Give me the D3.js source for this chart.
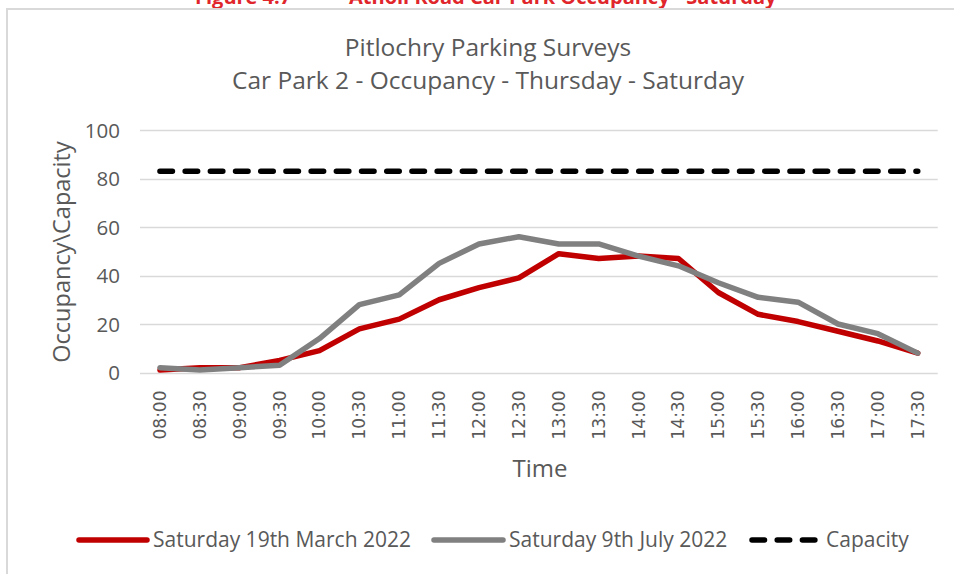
<!DOCTYPE html>
<html>
<head>
<meta charset="utf-8">
<script src="https://cdn.jsdelivr.net/npm/d3@7"></script>
<style>
  html, body { margin: 0; padding: 0; background: #fff; }
  svg { display: block; }
  text { font-family: "Open Sans", "Liberation Sans", sans-serif; fill: #595959; }
</style>
</head>
<body>
<svg id="chart" width="954" height="574"></svg>
<script>
// Survey times (half-hourly)
const times = ["08:00","08:30","09:00","09:30","10:00","10:30","11:00","11:30","12:00","12:30",
               "13:00","13:30","14:00","14:30","15:00","15:30","16:00","16:30","17:00","17:30"];
// Occupied spaces, Saturday 19th March 2022
const march = [1, 2, 2, 5, 9, 18, 22, 30, 35, 39, 49, 47, 48, 47, 33, 24, 21, 17, 13, 8];
// Occupied spaces, Saturday 9th July 2022
const july = [2, 1, 2, 3, 14, 28, 32, 45, 53, 56, 53, 53, 48, 44, 37, 31, 29, 20, 16, 8];
// Car park capacity
const capacity = 83;
const yTicks = [0, 20, 40, 60, 80, 100];
const seriesNames = ["Saturday 19th March 2022", "Saturday 9th July 2022", "Capacity"];
const seriesColors = ["#c00000", "#808080", "#000000"];

const svg = d3.select("#chart");

// Page heading above the chart frame
const heading = svg.append("g").attr("font-weight", "bold");
heading.append("text").attr("x", 195).attr("y", 4).attr("font-size", 20)
  .style("fill", "#e0252b").text("Figure 4.7");
heading.append("text").attr("x", 349).attr("y", 4).attr("font-size", 20)
  .style("fill", "#e0252b").text("Atholl Road Car Park Occupancy - Saturday");

// Chart frame
svg.append("path").attr("d", "M7,574 V9 H954")
  .attr("fill", "none").attr("stroke", "#d9d9d9").attr("stroke-width", 2);

// Titles
svg.append("text").attr("x", 488).attr("y", 56).attr("text-anchor", "middle")
  .attr("font-size", 24.5).text("Pitlochry Parking Surveys");
svg.append("text").attr("x", 488).attr("y", 89).attr("text-anchor", "middle")
  .attr("font-size", 24.5).text("Car Park 2 - Occupancy - Thursday - Saturday");

const plot = { left: 140, right: 937.7, top: 130, bottom: 372.5 };

const x = d3.scaleBand().domain(times).range([plot.left, plot.right]);
const y = d3.scaleLinear().domain([0, 100]).range([plot.bottom, plot.top]);
const cx = d => x(d) + x.bandwidth() / 2;

// Horizontal gridlines
svg.append("g").selectAll("line").data(yTicks).join("line")
  .attr("x1", plot.left).attr("x2", plot.right)
  .attr("y1", d => Math.round(y(d)) + 0.5).attr("y2", d => Math.round(y(d)) + 0.5)
  .attr("stroke", "#d9d9d9").attr("stroke-width", 1.3);

// Y axis labels
const yAxis = svg.append("g").attr("transform", `translate(${plot.left},0)`)
  .call(d3.axisLeft(y).tickValues(yTicks).tickSize(0).tickPadding(20));
yAxis.select(".domain").remove();
yAxis.selectAll("text").attr("font-size", 20.5).style("font-family", "'Open Sans', sans-serif")
  .attr("fill", "#595959").attr("dy", "0.35em");

// X axis labels (rotated)
const xAxis = svg.append("g").attr("transform", `translate(0,${plot.bottom})`)
  .call(d3.axisBottom(x).tickSize(0));
xAxis.select(".domain").remove();
xAxis.selectAll("text")
  .attr("font-size", 17).style("font-family", "'DejaVu Sans', sans-serif")
  .attr("fill", "#595959")
  .attr("transform", "rotate(-90)")
  .attr("text-anchor", "end")
  .attr("x", -18).attr("y", 0).attr("dy", "0.35em");

// Axis titles
svg.append("text").attr("x", 540).attr("y", 477).attr("text-anchor", "middle")
  .attr("font-size", 24).text("Time");
svg.append("text").attr("transform", "translate(70,252) rotate(-90)")
  .attr("text-anchor", "middle").attr("font-size", 23.5).text("Occupancy\\Capacity");

// Capacity line
svg.append("line")
  .attr("x1", cx(times[0])).attr("x2", cx(times[times.length - 1]))
  .attr("y1", y(capacity)).attr("y2", y(capacity))
  .attr("stroke", seriesColors[2]).attr("stroke-width", 5.5)
  .attr("stroke-linecap", "round").attr("stroke-dasharray", "12.5,12.7");

// Occupancy lines
const line = d3.line().x((d, i) => cx(times[i])).y(d => y(d));
[march, july].forEach((vals, k) => {
  svg.append("path").datum(vals).attr("d", line)
    .attr("fill", "none").attr("stroke", seriesColors[k]).attr("stroke-width", 5.5)
    .attr("stroke-linejoin", "round").attr("stroke-linecap", "round");
});

// Legend
const legendItems = [
  { name: seriesNames[0], color: seriesColors[0], x1: 79, x2: 147, tx: 153, dash: null },
  { name: seriesNames[1], color: seriesColors[1], x1: 434, x2: 503, tx: 509, dash: null },
  { name: seriesNames[2], color: seriesColors[2], x1: 752, x2: 820, tx: 826, dash: "12.5,12.7" }
];
const legend = svg.append("g");
legendItems.forEach(it => {
  legend.append("line").attr("x1", it.x1).attr("x2", it.x2).attr("y1", 540).attr("y2", 540)
    .attr("stroke", it.color).attr("stroke-width", 5.5).attr("stroke-linecap", "round")
    .attr("stroke-dasharray", it.dash);
  legend.append("text").attr("x", it.tx).attr("y", 540).attr("dy", "0.35em")
    .attr("font-size", 21).text(it.name);
});
</script>
</body>
</html>
